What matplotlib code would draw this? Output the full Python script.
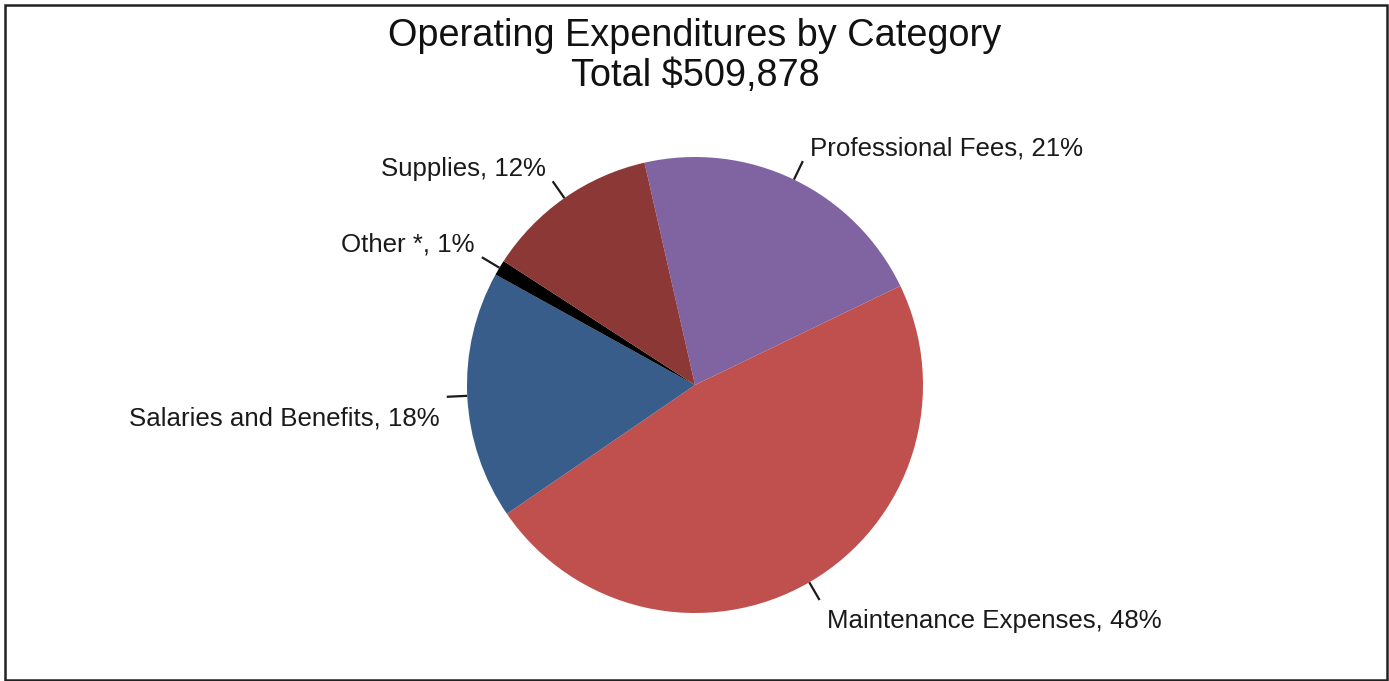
import numpy as np
import matplotlib
matplotlib.use('Agg')
from matplotlib import pyplot as plt
from matplotlib.patches import Rectangle

plt.rcParams['font.family'] = ['Liberation Sans', 'DejaVu Sans']

# expenditure data (dollars), clockwise from the top
categories = ['Professional Fees', 'Maintenance Expenses', 'Salaries and Benefits', 'Other *', 'Supplies']
amounts = [109114, 242702, 89739, 5609, 62714]
colors = ['#8064A2', '#C0504D', '#385D8A', '#000000', '#8C3836']
title = 'Operating Expenditures by Category\nTotal $509,878'

W, H, DPI = 1389, 681, 100
# pie centre and radius in pixels
cx, cy, R = 695, 385, 228

fig = plt.figure(figsize=(W/DPI, H/DPI), dpi=DPI)
ax = fig.add_axes([0, 0, 1, 1])

total = sum(amounts)
start = 102.8
wedges, _ = ax.pie(amounts, colors=colors, startangle=start, counterclock=False,
                   radius=1, center=(0, 0), frame=True,
                   wedgeprops=dict(linewidth=0))
ax.axis('off')
ax.set_xlim(-cx/R, (W-cx)/R)
ax.set_ylim(-(H-cy)/R, cy/R)
ax.set_aspect('equal')

# leader lines and labels at each wedge's mid angle
for w, name, amt in zip(wedges, categories, amounts):
    mid = np.deg2rad((w.theta1 + w.theta2)/2)
    x0, y0 = np.cos(mid), np.sin(mid)
    x1, y1 = 1.09*x0, 1.09*y0
    ax.plot([x0, x1], [y0, y1], color='#1a1a1a', lw=1.6, solid_capstyle='butt')
    sx = 1 if x0 >= 0 else -1
    sy = 1 if y0 >= 0 else -1
    ax.annotate('%s, %d%%' % (name, round(amt/total*100)), xy=(x1, y1),
                xytext=(sx*5, sy*12.2 - 3.2), textcoords='offset points',
                ha='left' if sx > 0 else 'right', va='center',
                fontsize=18.6, color='#1a1a1a')

fig.text(cx/W, 1-56/H, title, ha='center', va='center', fontsize=27.3,
         linespacing=1.15, color='#111111')

# outer frame
fig.patches.append(Rectangle((5/W, 1/H), 1382/W, 675/H, transform=fig.transFigure,
                             fill=False, edgecolor='#222222', lw=1.8))

fig.savefig('out.png', dpi=DPI)
